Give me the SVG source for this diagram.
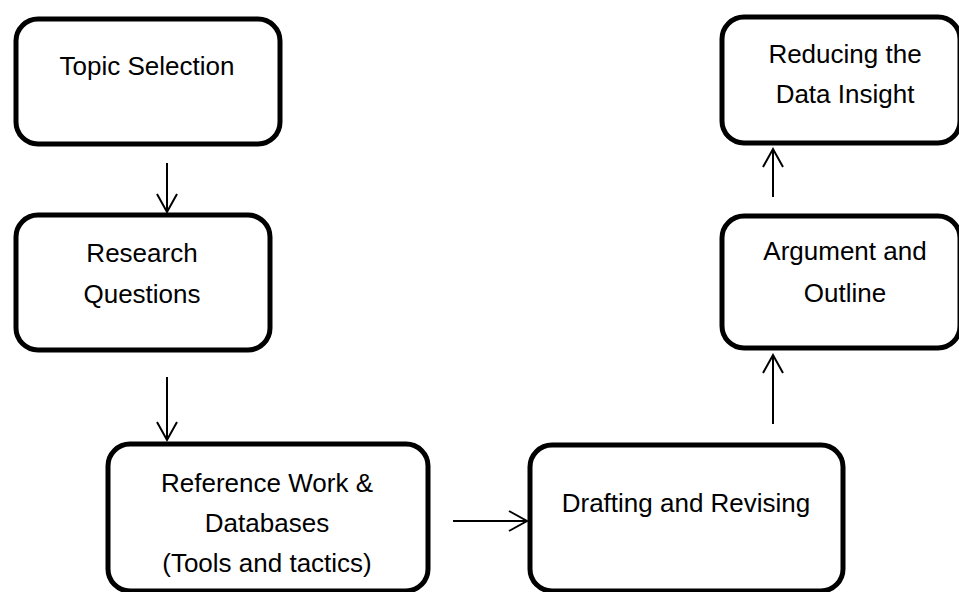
<svg xmlns="http://www.w3.org/2000/svg" width="959" height="592" viewBox="0 0 959 592">
<style>
.box{fill:#fff;stroke:#000;stroke-width:5}
.t{font-family:"Liberation Sans",Arial,sans-serif;font-size:26px;fill:#000;text-anchor:middle}
.c{stroke:#000;stroke-width:2;fill:none}
</style>
<defs>
<marker id="ah" markerUnits="userSpaceOnUse" markerWidth="30" markerHeight="30" refX="0" refY="0" orient="auto" overflow="visible">
<path d="M-18,-10 L0,0 L-18,10" fill="none" stroke="#000" stroke-width="2"/>
</marker>
</defs>
<rect width="959" height="592" fill="#fff"/>
<g id="n1">
<rect class="box" x="16" y="19" width="264" height="125" rx="22"/>
<text class="t" x="147" y="75">Topic Selection</text>
</g>
<g id="n2">
<rect class="box" x="16" y="215" width="254" height="135" rx="22"/>
<text class="t" x="142" y="262">Research</text>
<text class="t" x="142" y="303">Questions</text>
</g>
<g id="n3">
<rect class="box" x="108" y="444" width="320" height="147" rx="22"/>
<text class="t" x="267" y="492">Reference Work &amp;</text>
<text class="t" x="267" y="532">Databases</text>
<text class="t" x="267" y="572">(Tools and tactics)</text>
</g>
<g id="n4">
<rect class="box" x="530" y="445" width="313" height="146" rx="22"/>
<text class="t" x="686" y="512">Drafting and Revising</text>
</g>
<g id="n5">
<rect class="box" x="722" y="216" width="238" height="132" rx="22"/>
<text class="t" x="845" y="260">Argument and</text>
<text class="t" x="845" y="302">Outline</text>
</g>
<g id="n6">
<rect class="box" x="722" y="17" width="238" height="126" rx="22"/>
<text class="t" x="845" y="63">Reducing the</text>
<text class="t" x="845" y="103">Data Insight</text>
</g>
<g id="connectors">
<line class="c" x1="167" y1="163" x2="167" y2="212" marker-end="url(#ah)"/>
<line class="c" x1="167" y1="377" x2="167" y2="440" marker-end="url(#ah)"/>
<line class="c" x1="453" y1="521" x2="527" y2="521" marker-end="url(#ah)"/>
<line class="c" x1="773" y1="424" x2="773" y2="355" marker-end="url(#ah)"/>
<line class="c" x1="773" y1="197" x2="773" y2="149" marker-end="url(#ah)"/>
</g>
</svg>
